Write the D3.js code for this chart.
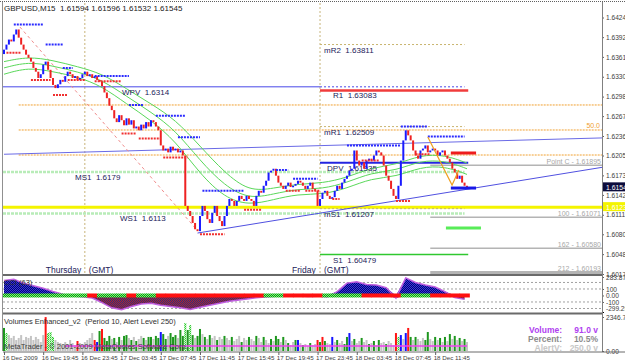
<!DOCTYPE html>
<html>
<head>
<meta charset="utf-8">
<script src="https://cdnjs.cloudflare.com/ajax/libs/d3/7.8.5/d3.min.js"></script>
<style>
  body { margin: 0; background: #fff; }
  svg { display: block; font-family: Arial, 'Liberation Sans', sans-serif; }
</style>
</head>
<body>
<div id="chart"></div>
<script>
// GBPUSD M15, one close per bar, 16 Dec 15:45 -> 18 Dec 14:45
const symbolTitle = 'GBPUSD,M15  1.61594 1.61596 1.61532 1.61545';
const firstOpen = 1.6366;
const closes = [
  1.6373, 1.6381, 1.6389, 1.6386, 1.6397, 1.6405, 1.6392, 1.6381, 1.6373, 1.6365,
  1.6360, 1.6354, 1.6344, 1.6338, 1.6328, 1.6334, 1.6349, 1.6354, 1.6341, 1.6328,
  1.6317, 1.6312, 1.6318, 1.6325, 1.6322, 1.6331, 1.6338, 1.6334, 1.6328, 1.6331,
  1.6325, 1.6328, 1.6334, 1.6338, 1.6331, 1.6334, 1.6328, 1.6331, 1.6325, 1.6322,
  1.6315, 1.6305, 1.6296, 1.6284, 1.6277, 1.6264, 1.6258, 1.6269, 1.6261, 1.6253,
  1.6264, 1.6254, 1.6261, 1.6248, 1.6251, 1.6245, 1.6254, 1.6248, 1.6258, 1.6251,
  1.6261, 1.6258, 1.6251, 1.6245, 1.6221, 1.6213, 1.6216, 1.6210, 1.6219, 1.6213,
  1.6216, 1.6210, 1.6213, 1.6205, 1.6125, 1.6117, 1.6109, 1.6098, 1.6088, 1.6085,
  1.6109, 1.6125, 1.6117, 1.6104, 1.6098, 1.6114, 1.6125, 1.6109, 1.6101, 1.6093,
  1.6109, 1.6125, 1.6136, 1.6133, 1.6125, 1.6133, 1.6141, 1.6136, 1.6133, 1.6141,
  1.6136, 1.6133, 1.6125, 1.6141, 1.6149, 1.6146, 1.6157, 1.6165, 1.6178, 1.6181,
  1.6184, 1.6173, 1.6162, 1.6157, 1.6152, 1.6157, 1.6162, 1.6155, 1.6157, 1.6160,
  1.6165, 1.6162, 1.6157, 1.6152, 1.6157, 1.6162, 1.6152, 1.6149, 1.6125, 1.6136,
  1.6146, 1.6149, 1.6141, 1.6136, 1.6139, 1.6149, 1.6157, 1.6152, 1.6162, 1.6168,
  1.6173, 1.6181, 1.6184, 1.6213, 1.6197, 1.6189, 1.6194, 1.6184, 1.6197, 1.6200,
  1.6197, 1.6205, 1.6213, 1.6210, 1.6205, 1.6189, 1.6173, 1.6165, 1.6152, 1.6141,
  1.6136, 1.6157, 1.6197, 1.6229, 1.6245, 1.6237, 1.6229, 1.6213, 1.6205, 1.6200,
  1.6213, 1.6216, 1.6221, 1.6210, 1.6213, 1.6216, 1.6213, 1.6205, 1.6210, 1.6213,
  1.6205, 1.6200, 1.6194, 1.6184, 1.6178, 1.6168, 1.6173, 1.6162, 1.6157, 1.61545,
];

const timeTickBars = [0, 16, 32, 48, 64, 80, 96, 112, 128, 144, 160, 176];
const timeLabels = ['16 Dec 2009', '16 Dec 19:45', '16 Dec 23:45', '17 Dec 03:45', '17 Dec 07:45',
  '17 Dec 11:45', '17 Dec 15:45', '17 Dec 19:45', '17 Dec 23:45', '18 Dec 03:45',
  '18 Dec 07:45', '18 Dec 11:45'];
const dayBars = [33, 129];
const dayNames = ['Thursday', 'Friday'];

const priceTicks = [1.64240, 1.63928, 1.63615, 1.63300, 1.62985, 1.62675, 1.62360,
  1.62050, 1.61735, 1.61425, 1.61110, 1.60800, 1.60485, 1.60170];
const lastPrice = 1.61545;
const yellowLevel = 1.61231;

// envelope moving averages, sampled every 10 bars
const maBars = [0, 10, 20, 30, 40, 50, 60, 70, 80, 90, 100, 110, 120, 130, 140, 150, 160, 170, 180, 189];
const maUpper = [1.6354, 1.6362, 1.6356, 1.6346, 1.6335, 1.6311, 1.6287, 1.6262, 1.6220, 1.6178,
  1.6148, 1.6153, 1.6160, 1.6161, 1.6170, 1.6186, 1.6190, 1.6206, 1.6206, 1.6193];
const maMid = [1.6344, 1.6354, 1.6347, 1.6338, 1.6325, 1.6299, 1.6274, 1.6245, 1.6197, 1.6157,
  1.6136, 1.6144, 1.6152, 1.6152, 1.6162, 1.6178, 1.6181, 1.6197, 1.6197, 1.6184];
const maLower = [1.6334, 1.6345, 1.6338, 1.6330, 1.6315, 1.6287, 1.6261, 1.6228, 1.6176, 1.6138,
  1.6126, 1.6135, 1.6144, 1.6143, 1.6153, 1.6169, 1.6171, 1.6187, 1.6188, 1.6175];

// [fromBar, toBar, price]
const resistance = [[4, 16, 1.6413], [17, 24, 1.6381], [24, 28, 1.6344], [37, 51, 1.6331],
  [51, 57, 1.6285], [62, 74, 1.6268], [71, 80, 1.6234], [81, 98, 1.6149], [111, 116, 1.6182],
  [118, 128, 1.6168], [140, 162, 1.6221], [162, 173, 1.6251], [173, 188, 1.6235]];
const support = [[1, 7, 1.6368], [11, 19, 1.6325], [20, 26, 1.6301], [26, 33, 1.6325],
  [37, 48, 1.6323], [48, 54, 1.6240], [55, 64, 1.6232], [65, 75, 1.6202], [80, 90, 1.6080],
  [98, 105, 1.6119], [115, 121, 1.6149], [123, 129, 1.6149], [134, 137, 1.6136],
  [146, 153, 1.6197], [160, 166, 1.6133], [168, 174, 1.6207]];

const weeklyLevels = [
  { name: 'WPV', value: 1.6314 },
  { name: 'MS1', value: 1.6179 },
  { name: 'WS1', value: 1.6113 },
];
const dailyLevels = [
  { name: 'mR2', value: 1.63811 },
  { name: 'R1', value: 1.63083 },
  { name: 'mR1', value: 1.62509 },
  { name: 'DPV', value: 1.61935 },
  { name: 'mS1', value: 1.61207 },
  { name: 'S1', value: 1.60479 },
];
const fibLevels = [1.62852, 1.62455, 1.62058];
const fibLabels = ['', '50.0', ''];
const extLevels = [1.61895, 1.61071, 1.60580, 1.60193];
const extLabels = ['Point C - 1.61895', '100 - 1.61071', '162 - 1.60580', '212 - 1.60193'];

const upperTrend = [[0, 1.6207], [245, 1.6233]];
const lowerTrend = [[79, 1.6082], [245, 1.61868]];
const dashedDiag = [[6.5, 1.64089], [78.8, 1.60868]];
const abcLine = [[173, 1.62344], [182.9, 1.61582], [185.7, 1.6182]];
const targets = [[182.4, 192.7, 1.6209, 'red'], [182.4, 192.7, 1.61534, 'blue'], [180.4, 194.7, 1.6090, 'green']];

// CCI(63), one value every 4 bars
const cciStep = 4;
const cciValues = [230, 250, 190, 150, 110, 60, 20, -10, -20, -40, -110, -190, -220, -170, -130,
  -120, -150, -170, -190, -215, -180, -150, -120, -90, -70, -50, -30, -20, -10, 10, -5, -15,
  -10, -25, 60, 190, 210, 170, 160, 120, -40, 270, 200, 160, 130, 60, -30, -60];
const cciTrend = 'gggggggggrgggrggrrrrrrrrrrrggrrrrggggrrrrgggrrrr';
const cciTicks = [283.874, 100, 0, -100];
const cciLevels = [200, 100, -100, -200];

// Volumes Enhanced, one per bar; g green, s grey, r red, b blue, l light green
const volumes = [
  1590, 1240, 1100, 900, 1040, 760, 900, 1100, 760, 970,
  900, 1040, 760, 970, 830, 620, 1100, 2340, 1240, 1310,
  970, 760, 620, 550, 410, 620, 480, 760, 550, 410,
  690, 550, 410, 620, 760, 900, 1240, 760, 620, 1380,
  1520, 900, 690, 1040, 830, 900, 620, 970, 760, 1040,
  1100, 900, 760, 970, 690, 830, 1040, 900, 760, 970,
  970, 830, 1040, 900, 1310, 1170, 830, 1040, 1240, 970,
  1100, 900, 1450, 1040, 1930, 1450, 1790, 1100, 900, 1040,
  1520, 1170, 970, 830, 1100, 900, 1040, 760, 970, 830,
  1040, 900, 760, 970, 690, 830, 1040, 620, 900, 760,
  970, 830, 690, 1040, 900, 620, 970, 760, 550, 830,
  690, 1040, 830, 620, 970, 760, 550, 410, 620, 760,
  760, 550, 410, 480, 350, 550, 410, 480, 760, 620,
  970, 690, 550, 480, 970, 620, 760, 550, 690, 480,
  970, 1240, 690, 830, 550, 690, 900, 620, 760, 480,
  550, 690, 410, 760, 550, 620, 480, 690, 550, 410,
  1240, 970, 1100, 830, 1240, 1590, 970, 760, 970, 830,
  690, 900, 760, 1310, 830, 690, 970, 760, 900, 620,
  970, 690, 1170, 830, 1040, 760, 900, 690, 830, 620,
];
const volTypes = 'glssssssss' + 'sssssssrll' + 'lsssssssss' + 'rssssssrbg' + 'rgggsgsgsg'
  + 'gsgsgssgsg' + 'gsggbggsgg' + 'gsgglglgsg' + 'gsgsgssgss' + 'gssgsssgss'
  + 'gssgssgssg' + 'sggsgsgssg' + 'bsgssgssrg' + 'rgssbsgssg' + 'gbsgssgssg'
  + 'sgsgssgsss' + 'rlbsbrgsgs' + 'ssggssgsgs' + 'gsgsgsgsgs';
const volAverage = 345;
const volTicks = [2346.75, 0];
const volInfo = [['Volume:', '91.0 v', '#b040f0'], ['Percent:', '10.5%', '#8c8c8c'], ['AlertV:', '250.0 v', '#c8c8c8']];

const W = 625;
const H = 363;
const left = 3;
const axisX = 602;
const main = { top: 3, bottom: 274 };
const cciPanel = { top: 277, bottom: 312 };
const volPanel = { top: 315, bottom: 351 };

const x = d3.scaleLinear().domain([0, 189]).range([4, 467]);
const y = d3.scaleLinear().domain([1.60170, 1.64240]).range([274, 17.5]);
const yCci = d3.scaleLinear().domain([-254, 284]).range([312, 277]);
const yVol = d3.scaleLinear().domain([0, 2346.75]).range([351, 317]);

const svg = d3.select('#chart').append('svg')
  .attr('width', W)
  .attr('height', H);

const defs = svg.append('defs');
const addPattern = (id, base, dot) => {
  const p = defs.append('pattern').attr('id', id)
    .attr('width', 2).attr('height', 2)
    .attr('patternUnits', 'userSpaceOnUse');
  p.append('rect').attr('width', 2).attr('height', 2).attr('fill', base);
  p.append('rect').attr('width', 1).attr('height', 1).attr('fill', dot);
  p.append('rect').attr('x', 1).attr('y', 1).attr('width', 1).attr('height', 1).attr('fill', dot);
};
addPattern('cciPos', '#000080', '#3a3ad0');
addPattern('cciNeg', '#b02030', '#303078');
addPattern('stripG', '#0a9a0a', '#7cf07c');
addPattern('volL', '#30c030', '#c0ffc0');

defs.append('clipPath').attr('id', 'mainClip')
  .append('rect')
  .attr('x', left).attr('y', main.top)
  .attr('width', axisX - left).attr('height', main.bottom - main.top);
defs.append('clipPath').attr('id', 'cciClip')
  .append('rect')
  .attr('x', left).attr('y', cciPanel.top)
  .attr('width', axisX - left).attr('height', cciPanel.bottom - cciPanel.top);

svg.append('rect').attr('width', W).attr('height', H).attr('fill', '#fff');

// ---------- main panel ----------
const g = svg.append('g').attr('clip-path', 'url(#mainClip)');
const line = d3.line().x(d => x(d[0])).y(d => y(d[1]));

// fibo retracement
g.selectAll('.fib')
  .data(fibLevels)
  .enter().append('line')
  .attr('x1', x(6)).attr('x2', axisX)
  .attr('y1', d => y(d)).attr('y2', d => y(d))
  .attr('stroke', '#f0a030')
  .attr('stroke-dasharray', '2,1');

// fibo expansion
g.selectAll('.ext')
  .data(extLevels)
  .enter().append('line')
  .attr('x1', x(174)).attr('x2', axisX)
  .attr('y1', d => y(d)).attr('y2', d => y(d))
  .attr('stroke', '#b4b4b4')
  .attr('stroke-width', (d, i) => (i === 3 ? 3 : 1.5));

// day separators
g.selectAll('.day')
  .data(dayBars)
  .enter().append('line')
  .attr('x1', d => x(d)).attr('x2', d => x(d))
  .attr('y1', main.top).attr('y2', main.bottom)
  .attr('stroke', '#c8b47a')
  .attr('stroke-dasharray', '2,2');

// weekly levels
weeklyLevels.forEach((lv) => {
  if (lv.name === 'WPV') {
    g.append('line')
      .attr('x1', left).attr('x2', x(dayBars[1]))
      .attr('y1', y(lv.value)).attr('y2', y(lv.value))
      .attr('stroke', '#4848e8');
    g.append('line')
      .attr('x1', x(dayBars[1])).attr('x2', x(188))
      .attr('y1', y(lv.value)).attr('y2', y(lv.value))
      .attr('stroke', '#4848e8')
      .attr('stroke-dasharray', '2,2');
  } else {
    g.append('line')
      .attr('x1', left).attr('x2', x(188))
      .attr('y1', y(lv.value)).attr('y2', y(lv.value))
      .attr('stroke', '#b8ecb8')
      .attr('stroke-width', 2.5)
      .attr('stroke-dasharray', '3,1');
  }
});

// yellow level
g.append('line')
  .attr('x1', left).attr('x2', axisX)
  .attr('y1', y(yellowLevel)).attr('y2', y(yellowLevel))
  .attr('stroke', '#f4f400')
  .attr('stroke-width', 3);

// daily pivots
const dailyStyle = {
  mR2: ['#c8b46e', 1, '2,2', 188], R1: ['#f03c3c', 2.5, null, 189.5], mR1: ['#c8b46e', 1, '2,2', 188],
  DPV: ['#2424e0', 2, null, 189.5], mS1: ['#c8b46e', 1, '2,2', 188], S1: ['#30c830', 1.5, null, 189.5],
};
dailyLevels.forEach((lv) => {
  const st = dailyStyle[lv.name];
  g.append('line')
    .attr('x1', x(dayBars[1])).attr('x2', x(st[3]))
    .attr('y1', y(lv.value)).attr('y2', y(lv.value))
    .attr('stroke', st[0])
    .attr('stroke-width', st[1])
    .attr('stroke-dasharray', st[2]);
});

// trend lines
g.append('path').datum(upperTrend).attr('d', line)
  .attr('fill', 'none').attr('stroke', '#6a6ae6');
g.append('path').datum(lowerTrend).attr('d', line)
  .attr('fill', 'none').attr('stroke', '#5050e0');
g.append('path').datum(dashedDiag).attr('d', line)
  .attr('fill', 'none').attr('stroke', '#f08c8c')
  .attr('stroke-dasharray', '3,3');

// moving averages
const maLine = d3.line()
  .x((d, i) => x(maBars[i]))
  .y(d => y(d))
  .curve(d3.curveBasis);
[maUpper, maMid, maLower].forEach((ma) => {
  g.append('path').datum(ma).attr('d', maLine)
    .attr('fill', 'none')
    .attr('stroke', '#5ad85a');
});

// level labels
const labelFont = 8;
const labelColor = '#22225a';
const weeklyLabelX = { WPV: 122, MS1: 75, WS1: 120 };
weeklyLevels.forEach((lv) => {
  g.append('text')
    .attr('x', weeklyLabelX[lv.name])
    .attr('y', y(lv.value) + 8)
    .attr('font-size', labelFont)
    .attr('fill', labelColor)
    .attr('xml:space', 'preserve')
    .text(`${lv.name}  ${lv.value}`);
});
const dailyLabelDx = { mR2: 4, R1: 13, mR1: 4, DPV: 7, mS1: 4, S1: 13 };
dailyLevels.forEach((lv) => {
  g.append('text')
    .attr('x', x(dayBars[1]) + dailyLabelDx[lv.name])
    .attr('y', y(lv.value) + 8)
    .attr('font-size', labelFont)
    .attr('fill', labelColor)
    .attr('xml:space', 'preserve')
    .text(`${lv.name}  ${lv.value.toFixed(5)}`);
});

// day names
dayBars.forEach((b, i) => {
  g.append('text')
    .attr('x', x(b) - 4 - (i === 0 ? 35 : 24))
    .attr('y', main.bottom - 1)
    .attr('font-size', 8.5)
    .attr('fill', labelColor)
    .text(dayNames[i]);
  g.append('text')
    .attr('x', x(b) + 4)
    .attr('y', main.bottom - 1)
    .attr('font-size', 8.5)
    .attr('fill', labelColor)
    .text('(GMT)');
});

// fibo labels
g.selectAll('.fibLabel')
  .data(fibLevels)
  .enter().append('text')
  .attr('x', axisX - 2)
  .attr('y', d => y(d) - 2)
  .attr('text-anchor', 'end')
  .attr('font-size', 7)
  .attr('fill', '#f0a030')
  .text((d, i) => fibLabels[i]);
g.selectAll('.extLabel')
  .data(extLevels)
  .enter().append('text')
  .attr('x', axisX - 1)
  .attr('y', d => y(d) - 1.5)
  .attr('text-anchor', 'end')
  .attr('font-size', 7)
  .attr('fill', '#a8a8a8')
  .text((d, i) => extLabels[i]);

// candles
const candles = closes.map((c, i) => ({ i, o: i ? closes[i - 1] : firstOpen, c }));
g.selectAll('.candle')
  .data(candles)
  .enter().append('rect')
  .attr('x', d => x(d.i) - 1)
  .attr('width', 2)
  .attr('y', d => y(Math.max(d.o, d.c)))
  .attr('height', d => Math.max(1.5, Math.abs(y(d.o) - y(d.c))))
  .attr('fill', d => (d.c >= d.o ? '#1a1aff' : '#ee2222'));

// fractal support / resistance
const srDraw = (rows, color) => {
  g.selectAll(null)
    .data(rows)
    .enter().append('line')
    .attr('x1', d => x(d[0])).attr('x2', d => x(d[1]))
    .attr('y1', d => y(d[2])).attr('y2', d => y(d[2]))
    .attr('stroke', color)
    .attr('stroke-width', 2)
    .attr('stroke-dasharray', '2,1');
};
srDraw(resistance, '#2a2aff');
srDraw(support, '#f03030');

// ABC pattern
g.append('path').datum(abcLine).attr('d', line)
  .attr('fill', 'none').attr('stroke', '#f0a020').attr('stroke-width', 1.2);

// target bars
const targetColor = { red: '#ee1c1c', blue: '#1818e8', green: '#58ec58' };
g.selectAll('.target')
  .data(targets)
  .enter().append('line')
  .attr('x1', d => x(d[0])).attr('x2', d => x(d[1]))
  .attr('y1', d => y(d[2])).attr('y2', d => y(d[2]))
  .attr('stroke', d => targetColor[d[3]])
  .attr('stroke-width', 3);

// title
svg.append('text')
  .attr('x', 4).attr('y', 11)
  .attr('font-size', 8)
  .attr('fill', '#202020')
  .attr('xml:space', 'preserve')
  .text(symbolTitle);

// price axis
const priceAxis = svg.append('g')
  .attr('transform', `translate(${axisX},0)`)
  .call(d3.axisRight(y).tickValues(priceTicks).tickSize(2).tickPadding(2)
    .tickFormat(d3.format('.5f')));

const priceBox = (value, fill) => {
  svg.append('rect')
    .attr('x', axisX + 1).attr('y', y(value) - 5)
    .attr('width', W - axisX).attr('height', 9)
    .attr('fill', fill);
  svg.append('text')
    .attr('x', axisX + 4).attr('y', y(value) + 2.5)
    .attr('font-size', 6.8)
    .attr('fill', '#fff')
    .text(value.toFixed(5));
};
priceBox(lastPrice, '#0c0c3c');
priceBox(yellowLevel, '#f4f400');

// ---------- CCI panel ----------
const gc = svg.append('g').attr('clip-path', 'url(#cciClip)');
gc.selectAll('.cciLevel')
  .data(cciLevels)
  .enter().append('line')
  .attr('x1', left).attr('x2', axisX)
  .attr('y1', d => yCci(d)).attr('y2', d => yCci(d))
  .attr('stroke', '#a0a0a0')
  .attr('stroke-dasharray', '2,2');

const cciArea = sign => d3.area()
  .x((d, i) => x(i * cciStep))
  .y0(yCci(0))
  .y1(d => yCci(sign > 0 ? Math.max(d, 0) : Math.min(d, 0)));
gc.append('path').datum(cciValues).attr('d', cciArea(1)).attr('fill', 'url(#cciPos)');
gc.append('path').datum(cciValues).attr('d', cciArea(-1)).attr('fill', 'url(#cciNeg)');
gc.append('path').datum(cciValues)
  .attr('d', d3.line().x((d, i) => x(i * cciStep)).y(d => yCci(d)))
  .attr('fill', 'none')
  .attr('stroke', '#c060e0')
  .attr('stroke-width', 1.5);

gc.selectAll('.strip')
  .data(cciValues)
  .enter().append('rect')
  .attr('x', (d, i) => x(i * cciStep) - 5)
  .attr('width', x(cciStep) - x(0) + 0.5)
  .attr('y', yCci(0) - 2)
  .attr('height', 4)
  .attr('fill', (d, i) => (cciTrend[i] === 'g' ? 'url(#stripG)' : '#ff1010'));

svg.append('text')
  .attr('x', 4).attr('y', cciPanel.top + 8)
  .attr('font-size', 7.5)
  .attr('fill', '#303030')
  .text('CCI (63)');

svg.append('g')
  .attr('transform', `translate(${axisX},0)`)
  .call(d3.axisRight(yCci).tickValues(cciTicks).tickSize(2).tickPadding(2)
    .tickFormat(d => (d === 0 ? '0.00' : `${d}`)));
svg.append('text')
  .attr('x', axisX + 4).attr('y', cciPanel.bottom - 1)
  .attr('font-size', 6.5)
  .attr('fill', '#404040')
  .text('-299.295');

// ---------- Volume panel ----------
const volColor = { g: '#1e961e', s: '#c4c4c4', r: '#ff1414', b: '#1414ff', l: 'url(#volL)' };
svg.selectAll('.vol')
  .data(volumes)
  .enter().append('rect')
  .attr('x', (d, i) => x(i) - 1)
  .attr('width', 2)
  .attr('y', d => yVol(d))
  .attr('height', d => yVol(0) - yVol(d))
  .attr('fill', (d, i) => volColor[volTypes[i]]);

svg.append('line')
  .attr('x1', x(25)).attr('x2', x(189))
  .attr('y1', yVol(volAverage)).attr('y2', yVol(volAverage))
  .attr('stroke', '#f040f0')
  .attr('stroke-width', 1.5);

svg.append('text')
  .attr('x', 4).attr('y', volPanel.top + 9)
  .attr('font-size', 7.5)
  .attr('fill', '#303030')
  .attr('xml:space', 'preserve')
  .text('Volumes Enhanced_v2  (Period 10, Alert Level 250)');
svg.append('text')
  .attr('x', 4).attr('y', volPanel.bottom - 2)
  .attr('font-size', 7.5)
  .attr('fill', '#404040')
  .text('MetaTrader - © 2001-2009 MetaQuotes Software Corp.');

volInfo.forEach((row, i) => {
  svg.append('text')
    .attr('x', 562).attr('y', 333 + i * 9)
    .attr('text-anchor', 'end')
    .attr('font-size', 8.5)
    .attr('font-weight', 'bold')
    .attr('fill', row[2])
    .text(row[0]);
  svg.append('text')
    .attr('x', 598).attr('y', 333 + i * 9)
    .attr('text-anchor', 'end')
    .attr('font-size', 8.5)
    .attr('font-weight', 'bold')
    .attr('fill', row[2])
    .text(row[1]);
});

svg.append('g')
  .attr('transform', `translate(${axisX},0)`)
  .call(d3.axisRight(yVol).tickValues(volTicks).tickSize(2).tickPadding(2)
    .tickFormat(d => (d === 0 ? '0.00' : d.toFixed(2))));

// time axis
const timeAxis = svg.append('g')
  .attr('class', 'x axis')
  .attr('transform', `translate(0,${volPanel.bottom + 1})`)
  .call(d3.axisBottom(x).tickValues(timeTickBars).tickSize(3).tickPadding(1)
    .tickFormat((d, i) => timeLabels[i]))
  .call(ax => ax.select('.domain').remove());

// axis styling
svg.selectAll('.tick text')
  .attr('font-size', 6.6)
  .attr('font-family', 'Arial, Liberation Sans, sans-serif')
  .attr('fill', '#404040');
timeAxis.selectAll('text')
  .attr('font-size', 6.2)
  .attr('text-anchor', 'start')
  .attr('dx', -2);
svg.selectAll('.tick line').attr('stroke', '#606060');
priceAxis.select('.domain').remove();

// frames
const frame = svg.append('g').attr('fill', 'none');
frame.append('line').attr('x1', 0).attr('x2', W).attr('y1', 1.5).attr('y2', 1.5)
  .attr('stroke', '#606060').attr('stroke-dasharray', '1,1');
frame.append('line').attr('x1', 2.5).attr('x2', 2.5).attr('y1', 2).attr('y2', volPanel.bottom)
  .attr('stroke', '#909090');
frame.append('line').attr('x1', axisX + 0.5).attr('x2', axisX + 0.5).attr('y1', 2).attr('y2', volPanel.bottom)
  .attr('stroke', '#808080');
[main.bottom + 1, cciPanel.bottom + 1.5].forEach((yy) => {
  frame.append('line').attr('x1', left).attr('x2', axisX).attr('y1', yy).attr('y2', yy)
    .attr('stroke', '#6a6a6a').attr('stroke-width', 2);
});
frame.append('line').attr('x1', left).attr('x2', W).attr('y1', volPanel.bottom + 1).attr('y2', volPanel.bottom + 1)
  .attr('stroke', '#6a6a6a');
</script>
</body>
</html>
